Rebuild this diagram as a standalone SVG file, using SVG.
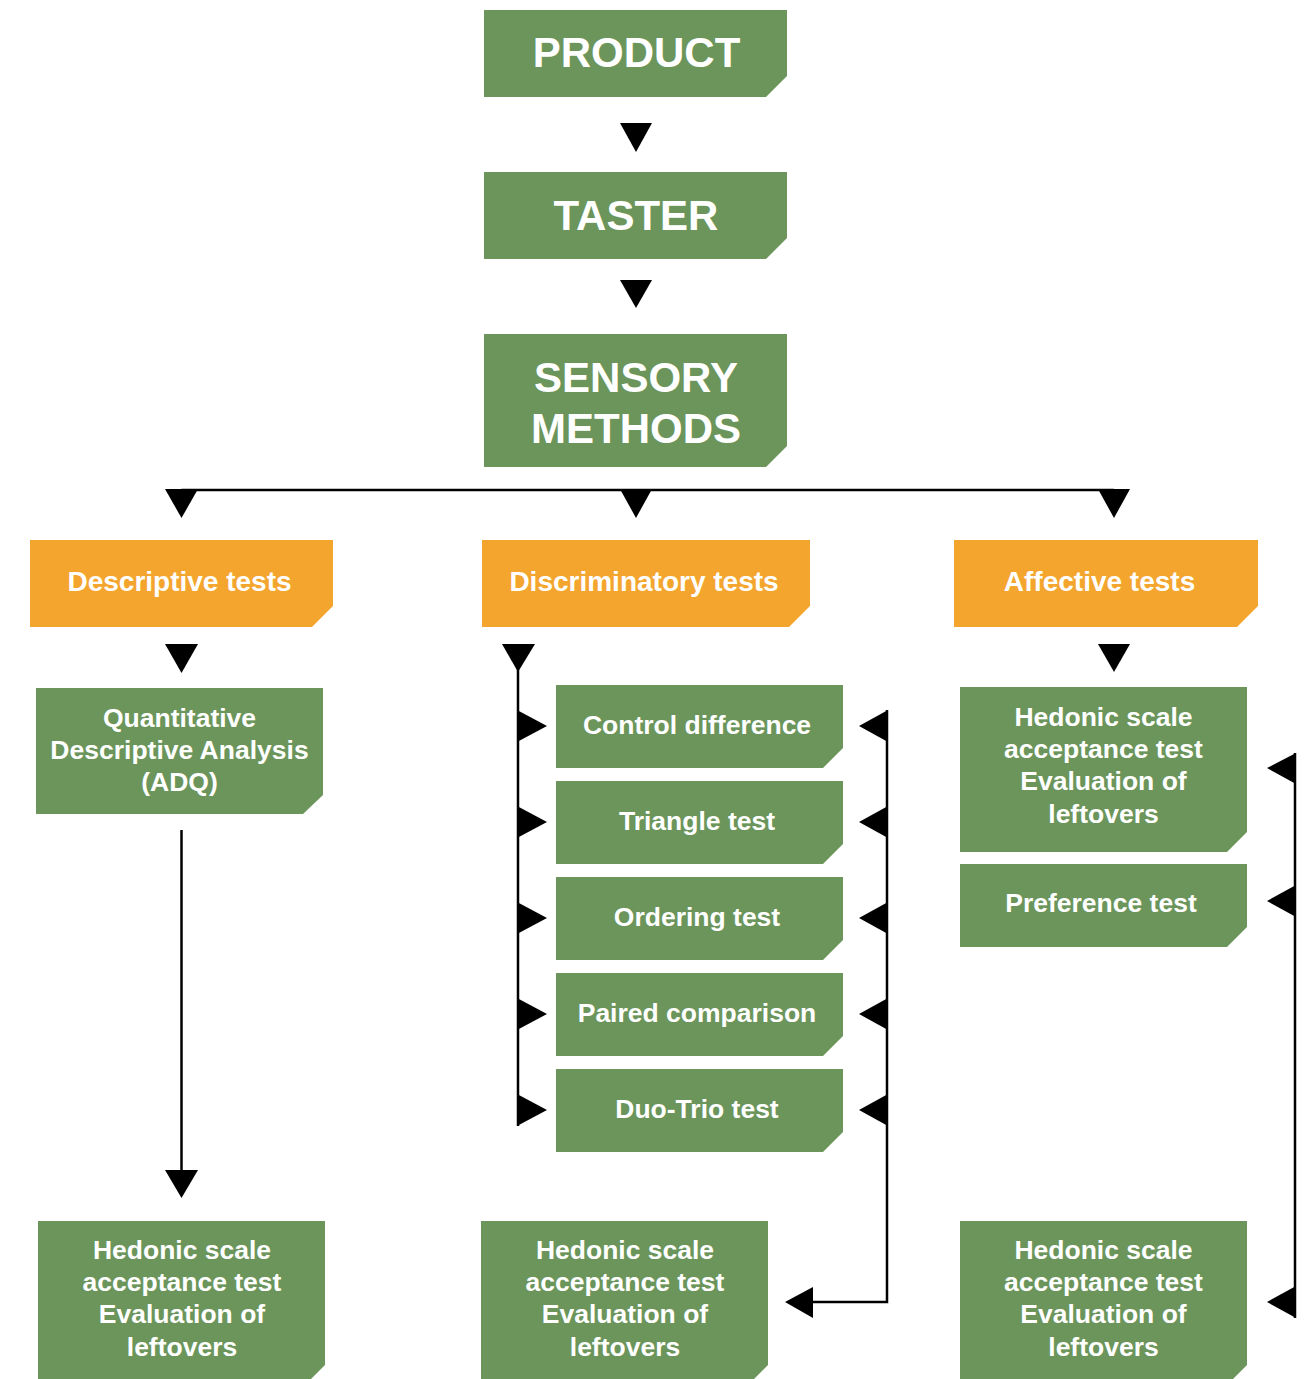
<svg xmlns="http://www.w3.org/2000/svg" width="1309" height="1379" viewBox="0 0 1309 1379">
<style>
.g{fill:#6B955B}
.o{fill:#F4A52E}
text{font-family:"Liberation Sans",Arial,Helvetica,sans-serif;font-weight:bold;fill:#FFFFFF;text-anchor:middle}
.big{font-size:42px}
.mid{font-size:28px}
.sm{font-size:26.5px}
.ln{fill:none;stroke:#000;stroke-width:2.5}
.ah{fill:#000}
</style>
<rect width="1309" height="1379" fill="#FFFFFF"/>
<g id="connectors">
<path class="ah" d="M620,123 L652,123 L636,152 Z"/>
<path class="ah" d="M620,280 L652,280 L636,308 Z"/>
<path class="ln" d="M181.5,490 H1114"/>
<path class="ah" d="M165,489 L198,489 L181.5,518 Z"/>
<path class="ah" d="M620,489 L652,489 L636,518 Z"/>
<path class="ah" d="M1098,489 L1130,489 L1114,518 Z"/>
<path class="ah" d="M165,644 L198,644 L181.5,673 Z"/>
<path class="ln" d="M181.5,830 V1180"/>
<path class="ah" d="M165,1170 L198,1170 L181.5,1198 Z"/>
<path class="ah" d="M502,644 L535,644 L518,672 Z"/>
<path class="ln" d="M518,660 V1126"/>
<path class="ah" d="M517,710 L547,726 L517,742 Z"/>
<path class="ah" d="M517,806 L547,822 L517,838 Z"/>
<path class="ah" d="M517,902 L547,918 L517,934 Z"/>
<path class="ah" d="M517,998 L547,1014 L517,1030 Z"/>
<path class="ah" d="M517,1094 L547,1110 L517,1126 Z"/>
<path class="ln" d="M887,710 V1302 H805"/>
<path class="ah" d="M888,710 L859,726 L888,742 Z"/>
<path class="ah" d="M888,806 L859,822 L888,838 Z"/>
<path class="ah" d="M888,902 L859,918 L888,934 Z"/>
<path class="ah" d="M888,998 L859,1014 L888,1030 Z"/>
<path class="ah" d="M888,1094 L859,1110 L888,1126 Z"/>
<path class="ah" d="M813,1287 L785,1302 L813,1318 Z"/>
<path class="ah" d="M1098,644 L1130,644 L1114,672 Z"/>
<path class="ln" d="M1295,753 V1318"/>
<path class="ah" d="M1296,753 L1267,768 L1296,784 Z"/>
<path class="ah" d="M1296,885 L1267,901 L1296,917 Z"/>
<path class="ah" d="M1296,1286 L1267,1302 L1296,1318 Z"/>
</g>
<g id="product">
<path class="g" d="M484,10 H787 V76 L766,97 H484 Z"/>
<text class="big" x="636.5" y="67">PRODUCT</text>
</g>
<g id="taster">
<path class="g" d="M484,172 H787 V238 L766,259 H484 Z"/>
<text class="big" x="636" y="230">TASTER</text>
</g>
<g id="sensory-methods">
<path class="g" d="M484,334 H787 V446 L766,467 H484 Z"/>
<text class="big" x="636" y="392">SENSORY</text>
<text class="big" x="636" y="443">METHODS</text>
</g>
<g id="descriptive-tests">
<path class="o" d="M30,540 H333 V606 L312,627 H30 Z"/>
<text class="mid" x="179.5" y="591">Descriptive tests</text>
</g>
<g id="discriminatory-tests">
<path class="o" d="M482,540 H810 V606 L789,627 H482 Z"/>
<text class="mid" x="644" y="591">Discriminatory tests</text>
</g>
<g id="affective-tests">
<path class="o" d="M954,540 H1258 V606 L1237,627 H954 Z"/>
<text class="mid" x="1099.5" y="591">Affective tests</text>
</g>
<g id="adq">
<path class="g" d="M36,688 H323 V795 L303,814 H36 Z"/>
<text class="sm" x="179.5" y="727">Quantitative</text>
<text class="sm" x="179.5" y="759">Descriptive Analysis</text>
<text class="sm" x="179.5" y="791">(ADQ)</text>
</g>
<g id="control-difference">
<path class="g" d="M556,685 H843 V748 L823,768 H556 Z"/>
<text class="sm" x="697" y="734">Control difference</text>
</g>
<g id="triangle-test">
<path class="g" d="M556,781 H843 V844 L823,864 H556 Z"/>
<text class="sm" x="697" y="830">Triangle test</text>
</g>
<g id="ordering-test">
<path class="g" d="M556,877 H843 V940 L823,960 H556 Z"/>
<text class="sm" x="697" y="926">Ordering test</text>
</g>
<g id="paired-comparison">
<path class="g" d="M556,973 H843 V1036 L823,1056 H556 Z"/>
<text class="sm" x="697" y="1022">Paired comparison</text>
</g>
<g id="duo-trio-test">
<path class="g" d="M556,1069 H843 V1132 L823,1152 H556 Z"/>
<text class="sm" x="697" y="1118">Duo-Trio test</text>
</g>
<g id="hedonic-affective">
<path class="g" d="M960,687 H1247 V832 L1227,852 H960 Z"/>
<text class="sm" x="1103.5" y="726">Hedonic scale</text>
<text class="sm" x="1103.5" y="758">acceptance test</text>
<text class="sm" x="1103.5" y="790">Evaluation of</text>
<text class="sm" x="1103.5" y="823">leftovers</text>
</g>
<g id="preference-test">
<path class="g" d="M960,864 H1247 V927 L1227,947 H960 Z"/>
<text class="sm" x="1101" y="912">Preference test</text>
</g>
<g id="hedonic-bottom-left">
<path class="g" d="M38,1221 H325 V1365 L311,1379 H38 Z"/>
<text class="sm" x="182" y="1259">Hedonic scale</text>
<text class="sm" x="182" y="1291">acceptance test</text>
<text class="sm" x="182" y="1323">Evaluation of</text>
<text class="sm" x="182" y="1356">leftovers</text>
</g>
<g id="hedonic-bottom-middle">
<path class="g" d="M481,1221 H768 V1365 L754,1379 H481 Z"/>
<text class="sm" x="625" y="1259">Hedonic scale</text>
<text class="sm" x="625" y="1291">acceptance test</text>
<text class="sm" x="625" y="1323">Evaluation of</text>
<text class="sm" x="625" y="1356">leftovers</text>
</g>
<g id="hedonic-bottom-right">
<path class="g" d="M960,1221 H1247 V1365 L1233,1379 H960 Z"/>
<text class="sm" x="1103.5" y="1259">Hedonic scale</text>
<text class="sm" x="1103.5" y="1291">acceptance test</text>
<text class="sm" x="1103.5" y="1323">Evaluation of</text>
<text class="sm" x="1103.5" y="1356">leftovers</text>
</g>
</svg>
